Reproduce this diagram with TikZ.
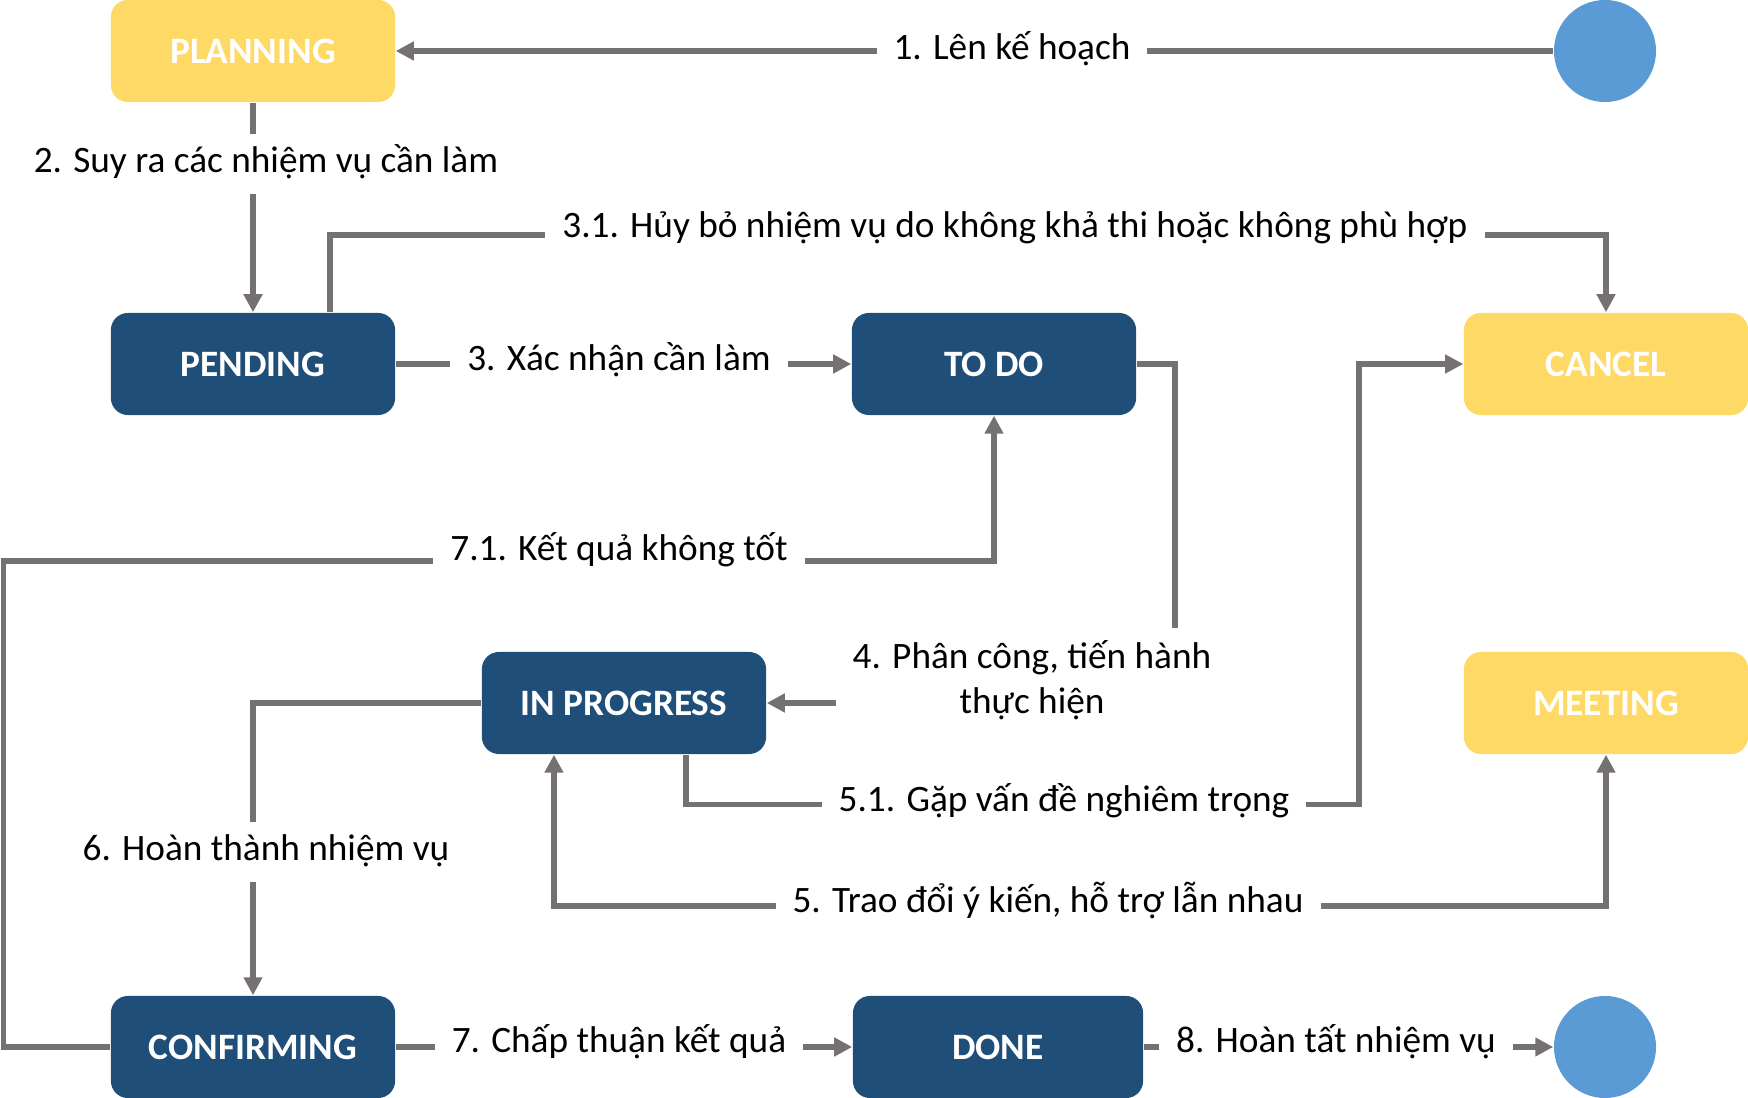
\documentclass[tikz,border=0pt]{standalone}
\usepackage{fontspec}
\setmainfont{Carlito}
\usetikzlibrary{arrows.meta}
\definecolor{boxblue}{HTML}{1F4E79}
\definecolor{boxgold}{HTML}{FFD966}
\definecolor{dotblue}{HTML}{5B9BD5}
\definecolor{linegray}{HTML}{767171}

\begin{document}
\begin{tikzpicture}[x=0.01cm,y=-0.01cm,
  >={Triangle[length=0.18cm,width=0.18cm]},
  state/.style={rounded corners=0.17cm, minimum width=2.84cm, minimum height=1.02cm, text=white, font=\fontsize{10.6}{12.8}\selectfont\bfseries},
  work/.style={state, fill=boxblue},
  side/.style={state, fill=boxgold},
  dot/.style={circle, fill=dotblue, minimum size=1.02cm, inner sep=0pt},
  flow/.style={draw=linegray, line width=1.55pt, ->},
  txt/.style={fill=white, font=\fontsize{10.6}{12.8}\selectfont, inner xsep=0.17cm, inner ysep=0.12cm},
  lbl/.style={txt, text height=0.27cm, text depth=0.09cm}]
\useasboundingbox (0,0) rectangle (1748,1098);

% states
\node[side] (planning) at (253,51) {PLANNING};
\node[work] (pending) at (253,364) {PENDING};
\node[work] (todo) at (994,364) {TO DO};
\node[side] (cancel) at (1606,364) {CANCEL};
\node[work] (inprog) at (624,703) {IN PROGRESS};
\node[side] (meeting) at (1606,703) {MEETING};
\node[work] (confirming) at (253,1047) {CONFIRMING};
\node[work, minimum width=2.9cm] (done) at (998,1047) {DONE};
\node[dot] (start) at (1605,51) {};
\node[dot] (finish) at (1605,1047) {};

% transitions
\draw[flow] (start) -- (planning);
\draw[flow] (planning) -- (pending);
\draw[flow] ([xshift=0.77cm]pending.north) |- ([yshift=0.77cm]cancel.north) -- (cancel.north);
\draw[flow] (pending) -- (todo);
\draw[flow] (todo.east) -- ++(0.38cm,0) |- (inprog.east);
\draw[flow] ([xshift=0.62cm]inprog.south) -- ++(0,-0.5cm) -| ([xshift=-1.04cm]cancel.west) -- (cancel.west);
\draw[flow,<->] ([xshift=-0.7cm]inprog.south) |- ([yshift=-1.51cm]meeting.south) -- (meeting.south);
\draw[flow] (inprog) -| (confirming);
\draw[flow] (confirming.west) -- ++(-1.065cm,0) |- ([yshift=-1.45cm]todo.south) -- (todo.south);
\draw[flow] (confirming) -- (done);
\draw[flow] (done) -- (finish);

% labels
\node[lbl] (l1) at (1012,51) {1. Lên kế hoạch};
\node[lbl] (l2) at (266,164) {2. Suy ra các nhiệm vụ cần làm};
\node[lbl] (l31) at (1015,229) {3.1. Hủy bỏ nhiệm vụ do không khả thi hoặc không phù hợp};
\node[lbl] (l3) at (619,362) {3. Xác nhận cần làm};
\node[txt, align=center] (l4) at (1032,680) {4. Phân công, tiến hành\\thực hiện};
\node[lbl] (l51) at (1064,803) {5.1. Gặp vấn đề nghiêm trọng};
\node[lbl] (l5) at (1048,903) {5. Trao đổi ý kiến, hỗ trợ lẫn nhau};
\node[lbl] (l6) at (266,852) {6. Hoàn thành nhiệm vụ};
\node[lbl] (l71) at (619,552) {7.1. Kết quả không tốt};
\node[lbl] (l7) at (619,1043) {7. Chấp thuận kết quả};
\node[lbl] (l8) at (1336,1043) {8. Hoàn tất nhiệm vụ};
\end{tikzpicture}
\end{document}
